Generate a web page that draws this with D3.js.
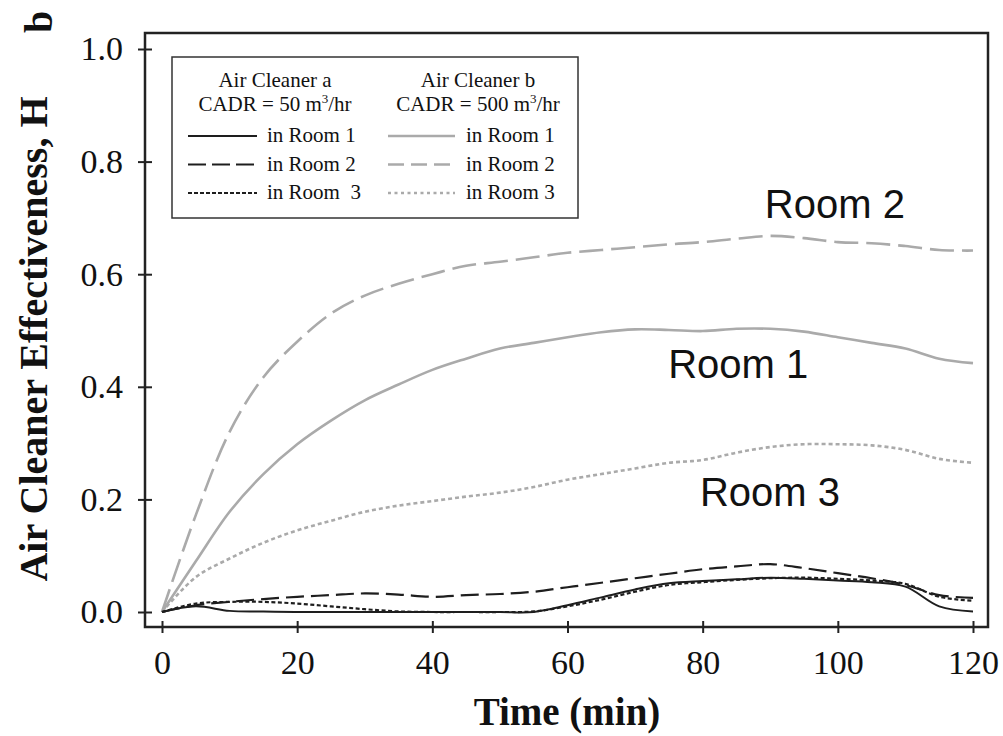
<!DOCTYPE html>
<html><head><meta charset="utf-8">
<script src="https://cdn.jsdelivr.net/npm/d3@7"></script>
<style>
html,body{margin:0;padding:0;background:#fff;}
svg{display:block;}
</style></head>
<body>
<svg id="chart" width="1003" height="736"></svg>
<script>
// ---- data ----
const times = [0,5,10,15,20,25,30,35,40,45,50,55,60,65,70,75,80,85,90,95,100,105,110,115,120];
// Air cleaner a (CADR 50 m3/hr)
const aRoom1 = [0,0.010,0.002,0.001,0,0,0,0,0,0,0,0,0.012,0.026,0.040,0.051,0.055,0.058,0.061,0.059,0.056,0.053,0.045,0.010,0.001];
const aRoom2 = [0,0.012,0.018,0.023,0.027,0.030,0.033,0.031,0.027,0.030,0.032,0.036,0.044,0.052,0.060,0.068,0.076,0.081,0.085,0.078,0.069,0.060,0.048,0.030,0.025];
const aRoom3 = [0,0.015,0.018,0.018,0.015,0.010,0.005,0.001,0,0,0,0.001,0.010,0.022,0.036,0.048,0.053,0.057,0.060,0.061,0.059,0.056,0.050,0.027,0.020];
// Air cleaner b (CADR 500 m3/hr)
const bRoom1 = [0,0.090,0.178,0.245,0.298,0.340,0.376,0.404,0.430,0.450,0.468,0.478,0.488,0.497,0.502,0.501,0.499,0.503,0.503,0.498,0.488,0.478,0.468,0.450,0.442];
const bRoom2 = [0,0.172,0.320,0.417,0.480,0.530,0.562,0.583,0.600,0.615,0.622,0.630,0.638,0.643,0.648,0.653,0.657,0.663,0.668,0.664,0.657,0.655,0.650,0.643,0.642];
const bRoom3 = [0,0.062,0.095,0.123,0.145,0.162,0.178,0.189,0.197,0.205,0.212,0.222,0.235,0.245,0.255,0.265,0.270,0.283,0.293,0.298,0.298,0.296,0.288,0.272,0.265];

const xTicks = [0,20,40,60,80,100,120];
const yTicks = [0,0.2,0.4,0.6,0.8,1.0];
const yTitle = "Air Cleaner Effectiveness, H";
const xTitle = "Time (min)";
const panelLabel = "b";
const legendHeads = [["Air Cleaner a","CADR = 50 m","3","/hr"],["Air Cleaner b","CADR = 500 m","3","/hr"]];
const legendRows = ["in Room 1","in Room 2","in Room  3"];
const legendRowsB = ["in Room 1","in Room 2","in Room 3"];
const roomLabels = [{text:"Room 2", t:89.2, v:0.700},{text:"Room 1", t:74.9, v:0.416},{text:"Room 3", t:79.6, v:0.188}];

// ---- styles ----
const BLACK = "#1e1e1e", GRAY = "#aaaaaa";
const dashA = {1:null, 2:"18,7", 3:"4,2.5"};
const dashB = {1:null, 2:"24,8", 3:"4,3"};
const serif = "'Liberation Serif','Times New Roman',serif";

const svg = d3.select("#chart");
const frame = {l:145, r:988, t:33, b:627};
const x = d3.scaleLinear().domain([0,120]).range([162,973]);
const y = d3.scaleLinear().domain([0,1]).range([612,49]);

// frame
svg.append("rect").attr("x",frame.l).attr("y",frame.t)
  .attr("width",frame.r-frame.l).attr("height",frame.b-frame.t)
  .attr("fill","none").attr("stroke","#222").attr("stroke-width",2.5);

// y axis
const yAx = svg.append("g").attr("transform",`translate(${frame.l},0)`)
  .call(d3.axisLeft(y).tickValues(yTicks).tickFormat(d3.format(".1f")).tickSizeInner(7).tickSizeOuter(0).tickPadding(15));
yAx.select(".domain").remove();
yAx.selectAll(".tick line").attr("x1",7).attr("x2",-7).attr("stroke","#222").attr("stroke-width",2);
yAx.selectAll("text").attr("font-family",serif).attr("font-size",34).attr("fill","#111");

// x axis
const xAx = svg.append("g").attr("transform",`translate(0,${frame.b})`)
  .call(d3.axisBottom(x).tickValues(xTicks).tickFormat(d3.format("d")).tickSizeInner(6).tickSizeOuter(0).tickPadding(17));
xAx.select(".domain").remove();
xAx.selectAll(".tick line").attr("y1",-6).attr("y2",6).attr("stroke","#222").attr("stroke-width",2);
xAx.selectAll("text").attr("font-family",serif).attr("font-size",34).attr("fill","#111");

// titles
svg.append("text").attr("transform","translate(47,339) rotate(-90)")
  .attr("text-anchor","middle").attr("font-family",serif).attr("font-weight","bold")
  .attr("font-size",40).attr("fill","#111").text(yTitle);
svg.append("text").attr("x",567).attr("y",725)
  .attr("text-anchor","middle").attr("font-family",serif).attr("font-weight","bold")
  .attr("font-size",39).attr("fill","#111").text(xTitle);
svg.append("text").attr("transform","translate(52,33) rotate(-90)")
  .attr("text-anchor","start").attr("font-family",serif).attr("font-weight","bold")
  .attr("font-size",40).attr("fill","#111").text(panelLabel);

// lines
const line = d3.line().x((d,i)=>x(times[i])).y(d=>y(d)).curve(d3.curveCatmullRom.alpha(0.5));
const series = [
  {v:bRoom3, c:GRAY, w:2.6, d:dashB[3]},
  {v:bRoom1, c:GRAY, w:2.6, d:dashB[1]},
  {v:bRoom2, c:GRAY, w:2.6, d:dashB[2]},
  {v:aRoom2, c:BLACK, w:2.2, d:dashA[2]},
  {v:aRoom1, c:BLACK, w:2.0, d:dashA[1]},
  {v:aRoom3, c:BLACK, w:2.2, d:dashA[3]},
];
svg.append("g").selectAll("path").data(series).join("path")
  .attr("d",s=>line(s.v)).attr("fill","none")
  .attr("stroke",s=>s.c).attr("stroke-width",s=>s.w)
  .attr("stroke-dasharray",s=>s.d);

// room labels
svg.append("g").selectAll("text").data(roomLabels).join("text")
  .attr("x",d=>x(d.t)).attr("y",d=>y(d.v)).attr("text-anchor","start")
  .attr("font-family","'Liberation Sans',Arial,sans-serif").attr("font-size",40)
  .attr("fill","#111").text(d=>d.text);

// legend
const lg = svg.append("g");
lg.append("rect").attr("x",172).attr("y",57).attr("width",406).attr("height",161)
  .attr("fill","#fff").attr("stroke","#333").attr("stroke-width",1.5);
const cols = [{cx:275, lx1:188, lx2:257, tx:267, c:BLACK, w:2, rows:legendRows},
              {cx:478, lx1:388, lx2:455, tx:466, c:GRAY, w:2.6, rows:legendRowsB}];
cols.forEach((col,ci)=>{
  const h = legendHeads[ci];
  lg.append("text").attr("x",col.cx).attr("y",87).attr("text-anchor","middle")
    .attr("font-family",serif).attr("font-size",21).attr("fill","#111").text(h[0]);
  const t2 = lg.append("text").attr("x",col.cx).attr("y",111).attr("text-anchor","middle")
    .attr("font-family",serif).attr("font-size",21).attr("fill","#111");
  t2.append("tspan").text(h[1]);
  t2.append("tspan").attr("dy",-8).attr("font-size",13).text(h[2]);
  t2.append("tspan").attr("dy",8).text(h[3]);
  [1,2,3].forEach((r,ri)=>{
    const by = 142 + ri*28.5;
    lg.append("line").attr("x1",col.lx1).attr("x2",col.lx2).attr("y1",by-6).attr("y2",by-6)
      .attr("stroke",col.c).attr("stroke-width",col.w)
      .attr("stroke-dasharray", r===2 ? (ci===0?"18,6":"16,7") : (r===3 ? (ci===0?"4,2":"3,3.5") : null));
    lg.append("text").attr("x",col.tx).attr("y",by).attr("font-family",serif).attr("font-size",21)
      .attr("fill","#111").style("white-space","pre").text(col.rows[ri]);
  });
});
</script>
</body></html>
